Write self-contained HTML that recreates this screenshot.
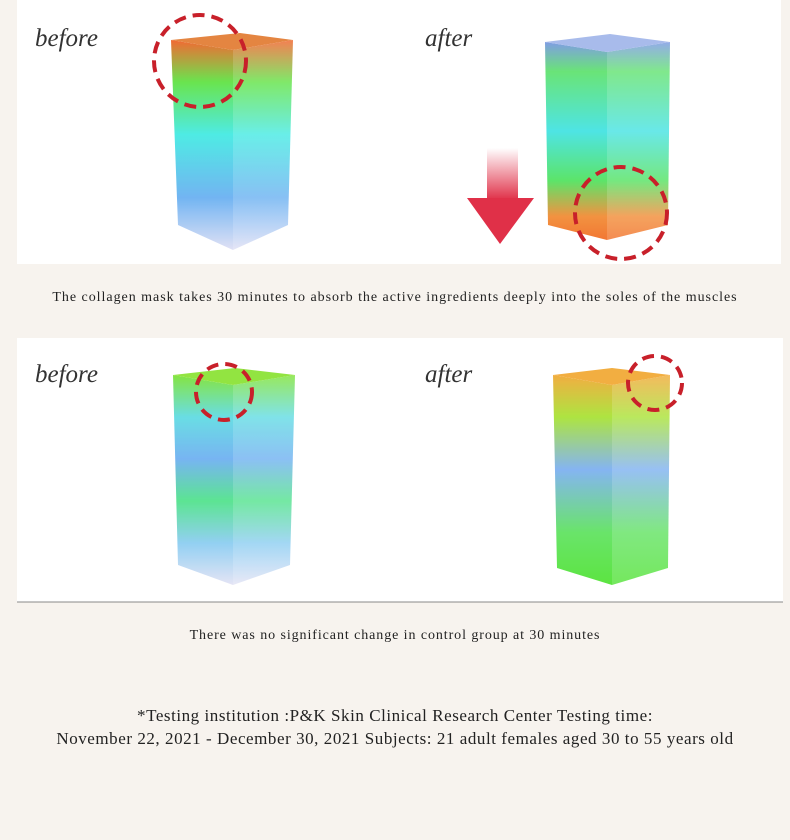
<!DOCTYPE html><html><head><style>
body{margin:0;width:790px;height:840px;background:#f7f3ee;font-family:"Liberation Serif",serif;overflow:hidden}
.t{position:absolute;left:0;width:790px;text-align:center;color:#222}
</style></head><body>
<svg width="790" height="840" style="position:absolute;left:0;top:0">
<defs>
<linearGradient id="g1" x1="0" y1="0" x2="0" y2="1"><stop offset="0" stop-color="#f05010"/><stop offset=".2" stop-color="#50e030"/><stop offset=".45" stop-color="#30e8e0"/><stop offset=".75" stop-color="#5aa8f0"/><stop offset="1" stop-color="#dcdcf4"/></linearGradient>
<linearGradient id="g2" x1="0" y1="0" x2="0" y2="1"><stop offset="0" stop-color="#6a8ce0"/><stop offset=".15" stop-color="#50e060"/><stop offset=".45" stop-color="#30e0e0"/><stop offset=".7" stop-color="#40e050"/><stop offset=".88" stop-color="#f08020"/><stop offset="1" stop-color="#f06010"/></linearGradient>
<linearGradient id="g3" x1="0" y1="0" x2="0" y2="1"><stop offset="0" stop-color="#70e020"/><stop offset=".2" stop-color="#50d8e0"/><stop offset=".4" stop-color="#60a8f0"/><stop offset=".6" stop-color="#40e080"/><stop offset=".8" stop-color="#80c8f0"/><stop offset="1" stop-color="#e0e0f4"/></linearGradient>
<linearGradient id="g4" x1="0" y1="0" x2="0" y2="1"><stop offset="0" stop-color="#f0a020"/><stop offset=".2" stop-color="#a0e020"/><stop offset=".45" stop-color="#70a8f0"/><stop offset=".75" stop-color="#50e050"/><stop offset="1" stop-color="#40e020"/></linearGradient>
<linearGradient id="ar" x1="0" y1="0" x2="0" y2="1"><stop offset="0" stop-color="#fff"/><stop offset="1" stop-color="#e03048"/></linearGradient>
</defs>
<rect x="17" y="0" width="764" height="264" fill="#fff"/>
<rect x="17" y="338" width="766" height="264" fill="#fff"/>
<line x1="17" y1="602" x2="783" y2="602" stroke="#888"/>
<g opacity=".85">
<polygon points="171,40 233,50 233,250 178,225" fill="url(#g1)"/><polygon points="233,50 293,40 288,225 233,250" fill="url(#g1)" opacity=".85"/><polygon points="171,40 233,50 293,40 240,33" fill="#e07020"/>
<polygon points="545,42 607,52 607,240 548,225" fill="url(#g2)"/><polygon points="607,52 670,42 668,225 607,240" fill="url(#g2)" opacity=".85"/><polygon points="545,42 607,52 670,42 610,34" fill="#9ab0e8"/>
<polygon points="173,375 233,385 233,585 178,565" fill="url(#g3)"/><polygon points="233,385 295,375 290,565 233,585" fill="url(#g3)" opacity=".85"/><polygon points="173,375 233,385 295,375 235,368" fill="#80e020"/>
<polygon points="553,375 612,385 612,585 557,568" fill="url(#g4)"/><polygon points="612,385 670,375 668,568 612,585" fill="url(#g4)" opacity=".85"/><polygon points="553,375 612,385 670,375 612,368" fill="#f0a020"/>
</g>
<rect x="487" y="148" width="31" height="52" fill="url(#ar)"/><polygon points="467,198 534,198 500,244" fill="#e03048"/>
<g fill="none" stroke="#c8202a" stroke-width="4" stroke-dasharray="12 7">
<circle cx="200" cy="61" r="46"/><circle cx="621" cy="213" r="46"/><circle cx="224" cy="392" r="28"/><circle cx="655" cy="383" r="27"/>
</g>
<g font-family="Liberation Serif,serif" font-style="italic" font-size="25" fill="#333">
<text x="35" y="46">before</text><text x="425" y="46">after</text><text x="35" y="382">before</text><text x="425" y="382">after</text>
</g>
</svg>
<div class="t" style="top:290px;font-size:14px;letter-spacing:0.97px">The collagen mask takes 30 minutes to absorb the active ingredients deeply into the soles of the muscles</div>
<div class="t" style="top:628px;font-size:14px;letter-spacing:0.92px">There was no significant change in control group at 30 minutes</div>
<div class="t" style="top:704px;font-size:17px;line-height:23px;letter-spacing:0.55px">*Testing institution :P&amp;K Skin Clinical Research Center Testing time:<br>November 22, 2021 - December 30, 2021 Subjects: 21 adult females aged 30 to 55 years old</div>
</body></html>
